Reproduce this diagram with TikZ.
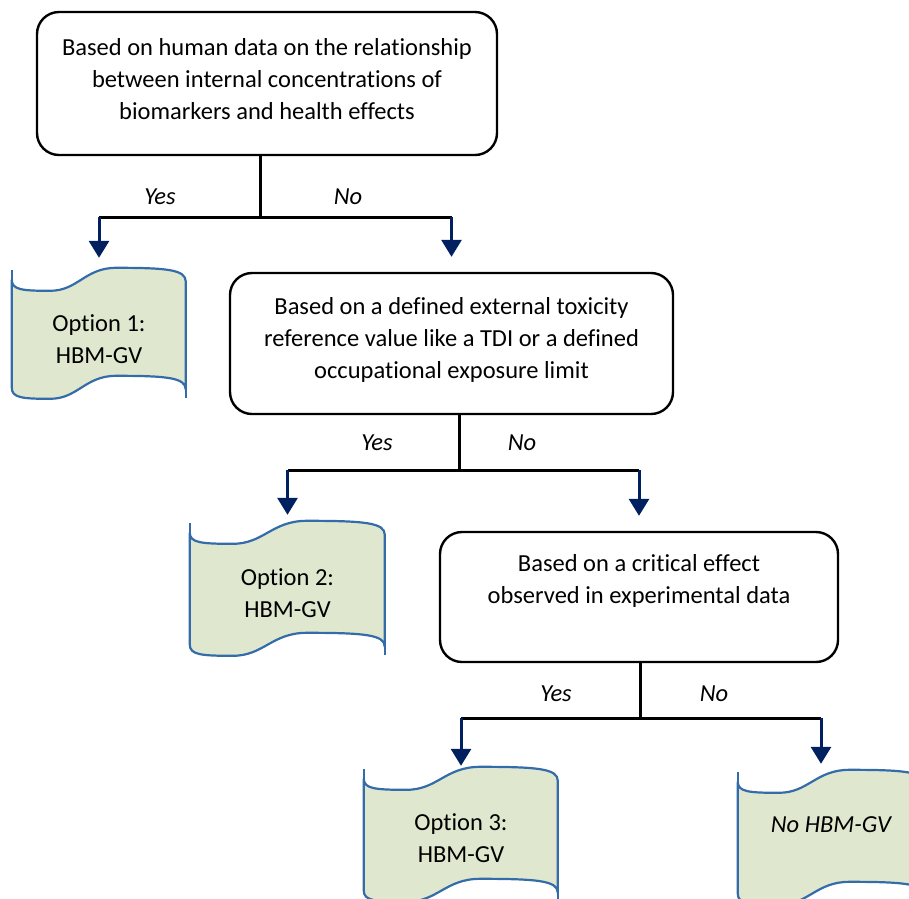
\documentclass[tikz,border=0pt]{standalone}
\usepackage{fontspec}
\setmainfont{Carlito}[Ligatures=NoCommon]
\usetikzlibrary{arrows.meta,backgrounds,calc}
\definecolor{navyarrow}{RGB}{0,32,96}
\definecolor{tapeblue}{RGB}{52,108,170}
\definecolor{tapefill}{RGB}{223,232,207}
\tikzset{
  decision/.style={draw, line width=2.4pt, rounded corners=22pt, align=center, inner sep=0pt},
  tapebox/.style={inner sep=0pt, align=center},
  tapeline/.style={draw=tapeblue, fill=tapefill, line width=2.2pt, line join=round},
  stem/.style={line width=3pt},
  down/.style={draw=navyarrow, line width=3pt, -{Triangle[width=20pt,length=17pt]}, shorten >=8pt},
  answer/.style={font=\fontsize{24.5}{32}\selectfont\itshape}
}
% wavy sheet behind a tape node: #1 node, #2 width, #3 height
\newcommand{\tapeshape}[3]{%
  \begin{scope}[on background layer, shift={(#1.north west)}]
    \filldraw[tapeline] (0,10) .. controls (0,20) and (0.06*#2,21) .. (0.22*#2,21)
      .. controls (0.38*#2,21) and (0.42*#2,-2) .. (0.6*#2,-2)
      .. controls (0.9*#2,-2) and (#2,0) .. (#2,12)
      -- (#2,#3-8)
      .. controls (#2,#3-20) and (0.9*#2,#3-22) .. (0.6*#2,#3-22)
      .. controls (0.42*#2,#3-22) and (0.38*#2,#3+1) .. (0.22*#2,#3+1)
      .. controls (0.06*#2,#3+1) and (0,#3) .. (0,#3-10) -- cycle;
    \draw[tapeline] (0,0) -- (0,10);
    \draw[tapeline] (#2,#3-8) -- (#2,#3);
  \end{scope}}

\begin{document}
\begin{tikzpicture}[x=1pt, y=-1pt, font=\fontsize{24.5}{32}\selectfont]
    \useasboundingbox (0,0) rectangle (909,898);

    % Questions
    \node[decision, minimum width=460pt, minimum height=143pt, text depth=9pt] (human) at (267,83.5)
      {Based on human data on the relationship\\between internal concentrations of\\biomarkers and health effects};
    \node[decision, minimum width=443pt, minimum height=141pt, text depth=12pt] (external) at (451.5,343.5)
      {Based on a defined external toxicity\\reference value like a TDI or a defined\\occupational exposure limit};
    \node[decision, minimum width=398pt, minimum height=130pt, text depth=36pt] (critical) at (639,597)
      {Based on a critical effect\\observed in experimental data};

    % Outcomes
    \node[tapebox, minimum width=174pt, minimum height=138pt] (opt1) at (99,339) {Option 1:\\HBM-GV};
    \node[tapebox, minimum width=195pt, minimum height=141pt] (opt2) at (287.5,593.5) {Option 2:\\HBM-GV};
    \node[tapebox, minimum width=194pt, minimum height=139pt] (opt3) at (461,838.5) {Option 3:\\HBM-GV};
    \node[tapebox, minimum width=186pt, minimum height=106pt] (nogv) at (831,825) {\itshape No HBM-GV};
    \tapeshape{opt1}{174}{128}
    \tapeshape{opt2}{195}{132}
    \tapeshape{opt3}{194}{132}
    \tapeshape{nogv}{186}{132}

    % Forks
    \coordinate (fork1) at (260,217);
    \coordinate (fork2) at (459,470);
    \coordinate (fork3) at (640,718);
    \coordinate (no3) at (821,718);

    % First question
    \draw[stem] (human.south -| fork1) -- (fork1);
    \draw[stem] (opt1.north |- fork1) -- (external.north |- fork1);
    \draw[down, shorten >=12pt] (opt1.north |- fork1) -- (opt1.north);
    \draw[down, shorten >=15pt] (external.north |- fork1) -- (external.north);
    \node[answer] (yes1) at (160,197) {Yes};
    \node[answer] (no1) at (348,197) {No};

    % Second question
    \draw[stem] (external.south -| fork2) -- (fork2);
    \draw[stem] (opt2.north |- fork2) -- (critical.north |- fork2);
    \draw[down] (opt2.north |- fork2) -- (opt2.north);
    \draw[down, shorten >=15pt] (critical.north |- fork2) -- (critical.north);
    \node[answer] (yes2) at (377,443) {Yes};
    \node[answer] (no2) at (522,443) {No};

    % Third question
    \draw[stem] (critical.south -| fork3) -- (fork3);
    \draw[stem] (opt3.north |- fork3) -- (no3);
    \draw[down, shorten >=3pt] (opt3.north |- fork3) -- (opt3.north);
    \draw[down] (no3) -- (no3 |- nogv.north);
    \node[answer] (yes3) at (556,694) {Yes};
    \node[answer] (no3label) at (714,694) {No};
\end{tikzpicture}
\end{document}
